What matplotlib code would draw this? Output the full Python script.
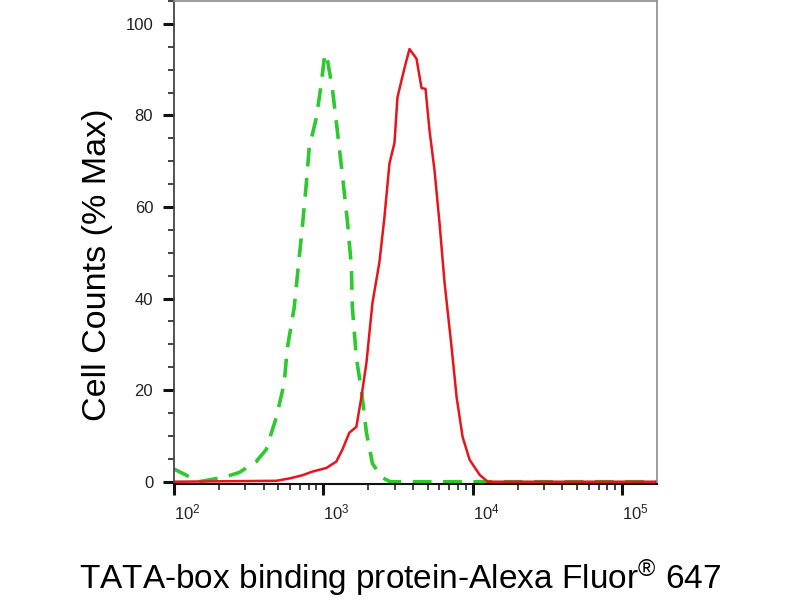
import numpy as np
import matplotlib.pyplot as plt
from matplotlib.ticker import FixedLocator, LogLocator, NullFormatter, MultipleLocator

plt.rcParams['font.family'] = ['Liberation Sans', 'DejaVu Sans']
plt.rcParams['mathtext.fontset'] = 'custom'
plt.rcParams['mathtext.rm'] = 'Liberation Sans'
plt.rcParams['mathtext.it'] = 'Liberation Sans'

# isotype control (green dashed)
ctrl_x = [97, 147, 217, 273, 355, 414, 484, 547, 573, 638, 690, 723, 769, 805,
          898, 970, 1016, 1048, 1149, 1241, 1342, 1449, 1542, 1566, 1665, 1800,
          1945, 2133, 2450, 2800, 5000, 20000, 100000, 171000]
ctrl_y = [3, 0, 1, 2, 4.4, 7, 14, 21.5, 29, 38, 49, 55.5, 65, 73,
          79.5, 87, 92.6, 93.5, 86, 76.7, 67, 57, 47, 38, 27, 20,
          10.7, 4, 1, 0, 0, 0, 0, 0]

# TATA-box binding protein (red solid)
tbp_x = [100, 484, 591, 723, 844, 1048, 1222, 1342, 1494, 1665, 1800, 1945,
         2133, 2377, 2566, 2773, 2997, 3139, 3500, 3778, 4209, 4548, 4839,
         5145, 5559, 6007, 6491, 7228, 7812, 8569, 9546, 11150, 12610, 171000]
tbp_y = [0, 0.2, 0.7, 1.4, 2.2, 3, 4.4, 7, 10.7, 12, 18.5, 26,
         39, 48, 57.7, 69.5, 74, 84, 90.4, 94.5, 92.4, 86, 85.8,
         76.7, 68, 56.4, 43.4, 29.4, 18.5, 9.8, 4.8, 1.5, 0, 0]

x_decades = [100, 1000, 10000, 100000]
x_labels = ['$10^2$', '$10^3$', '$10^4$', '$10^5$']
y_ticks = [0, 20, 40, 60, 80, 100]

fig = plt.figure(figsize=(8, 6), dpi=100)
ax = fig.add_axes([174/800, 1 - 484/600, (657 - 174)/800, 483/600])

ax.plot(ctrl_x, ctrl_y, color='#2ec92e', lw=2.6, linestyle=(0, (5.2, 3.2)))
ax.plot(tbp_x, tbp_y, color='#e8141c', lw=1.8)

ax.set_xscale('log')
ax.set_xlim(100, 10**5.235)
ax.set_ylim(-0.5, 105)

ax.xaxis.set_major_locator(FixedLocator(x_decades))
ax.set_xticklabels(x_labels, ha='left')
ax.xaxis.set_minor_locator(LogLocator(base=10, subs=np.arange(2, 10)))
ax.xaxis.set_minor_formatter(NullFormatter())

ax.set_yticks(y_ticks)
ax.set_yticklabels([str(v) for v in y_ticks])
ax.yaxis.set_minor_locator(MultipleLocator(5))

ax.tick_params(which='major', direction='out', length=8, width=2.2,
               labelsize=12, labelcolor='#222222', color='#111111')
ax.tick_params(axis='y', which='major', pad=7)
ax.tick_params(axis='x', which='major', pad=5)
ax.tick_params(which='minor', direction='out', length=4, width=1.1, color='#111111')

for side in ['top', 'right']:
    ax.spines[side].set_color('#8c8c8c')
    ax.spines[side].set_linewidth(1.2)
ax.spines['left'].set_color('#444444')
ax.spines['left'].set_linewidth(1.3)
ax.spines['bottom'].set_color('#111111')
ax.spines['bottom'].set_linewidth(1.5)

fig.text(98/800, 1 - 265/600, 'Cell Counts (% Max)', rotation=90,
         fontsize=24.5, ha='center', va='center')
fig.text(0.5, 1 - 578/600, 'TATA-box binding protein-Alexa Fluor$^{®}$ 647',
         fontsize=24, ha='center', va='center')

fig.savefig('out.png', dpi=100)
